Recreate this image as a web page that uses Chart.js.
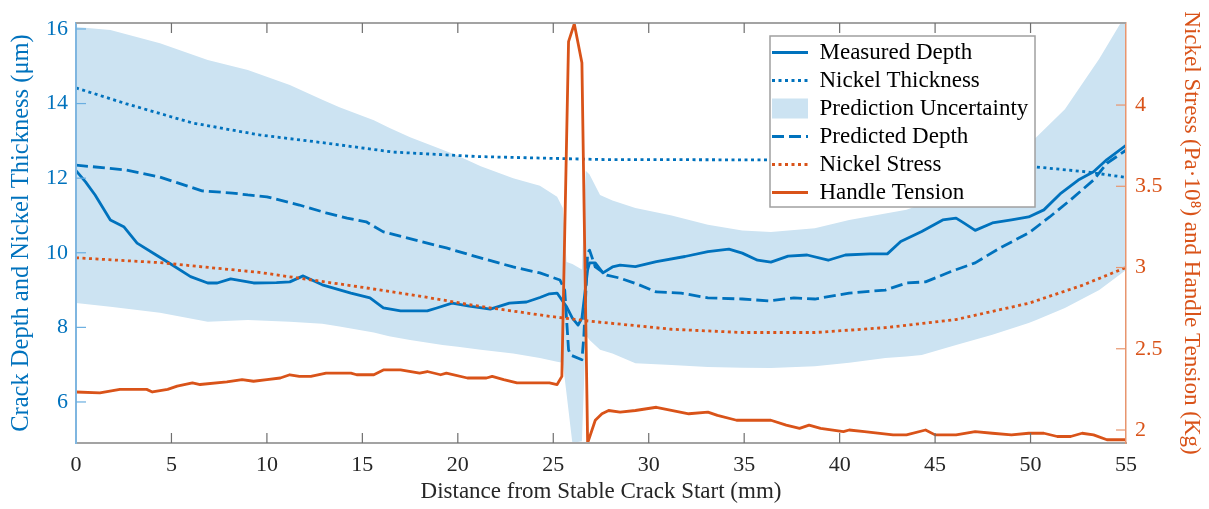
<!DOCTYPE html>
<html>
<head>
<meta charset="utf-8">
<script src="https://cdn.jsdelivr.net/npm/chart.js@4.4.1/dist/chart.umd.min.js"></script>
<style>
html, body { margin: 0; padding: 0; background: #fff; }
canvas { display: block; }
</style>
</head>
<body>
<canvas id="myChart" width="1209" height="509"></canvas>
<script>
// tick labels
const xTicks = [0, 5, 10, 15, 20, 25, 30, 35, 40, 45, 50, 55];
const leftTicks = [6, 8, 10, 12, 14, 16];
const rightTicks = [2, 2.5, 3, 3.5, 4];

// Measured Depth (um)
const measuredX = [0, 0.5, 1.0, 1.8, 2.5, 3.2, 4.2, 4.9, 6.0, 6.9, 7.4, 8.1, 9.3, 10.5, 11.2, 11.9, 12.9, 14.4, 15.4, 16.1, 17.0, 18.4, 18.9, 19.7, 20.6, 21.7, 22.7, 23.6, 24.3, 24.8, 25.2, 25.7, 26.0, 26.3, 26.5, 26.8, 26.9, 27.2, 27.6, 28.1, 28.5, 29.3, 30.4, 31.9, 33.1, 34.2, 34.9, 35.7, 36.4, 37.3, 38.3, 39.4, 40.3, 41.6, 42.5, 43.2, 44.3, 45.4, 46.1, 46.5, 47.1, 48.0, 49.0, 49.9, 50.7, 51.6, 52.5, 53.3, 54.0, 55];
const measuredDepth = [12.2, 11.9, 11.55, 10.88, 10.7, 10.26, 9.94, 9.72, 9.36, 9.19, 9.19, 9.3, 9.19, 9.2, 9.22, 9.38, 9.14, 8.92, 8.79, 8.52, 8.44, 8.44, 8.52, 8.65, 8.57, 8.49, 8.65, 8.68, 8.8, 8.9, 8.92, 8.55, 8.25, 8.06, 8.25, 9.54, 9.73, 9.73, 9.46, 9.62, 9.67, 9.63, 9.76, 9.9, 10.03, 10.1, 9.99, 9.8, 9.75, 9.91, 9.94, 9.8, 9.94, 9.97, 9.97, 10.3, 10.57, 10.88, 10.93, 10.8, 10.6, 10.8, 10.88, 10.96, 11.15, 11.6, 11.95, 12.17, 12.5, 12.88];

// Nickel Thickness (um)
const thickX = [0, 2.6, 6.1, 9.6, 13.1, 16.6, 21, 27.5, 36.3, 40, 45, 50.3, 52.9, 55];
const nickelThickness = [14.42, 14.0, 13.48, 13.16, 12.94, 12.7, 12.58, 12.5, 12.49, 12.47, 12.42, 12.3, 12.17, 12.02];

// Prediction Uncertainty band (um)
const bandX = [0, 1.8, 4.4, 6.9, 9.0, 11.2, 12.9, 13.8, 15.6, 16.4, 17.5, 19.2, 20.0, 21.2, 22.9, 24.3, 25.2, 25.5, 25.7, 26.0, 26.5, 26.7, 26.9, 27.45, 28.1, 29.3, 31.2, 33.1, 34.9, 36.4, 38.7, 40.5, 42.4, 43.5, 44.3, 46.1, 48.0, 49.9, 50.3, 51.8, 53.6, 55];
const bandUpper = [16.05, 15.97, 15.62, 15.17, 14.9, 14.5, 14.1, 13.9, 13.55, 13.35, 13.1, 12.76, 12.6, 12.32, 12.0, 11.8, 11.5, 11.2, 9.75, 9.7, 9.55, 12.2, 12.1, 11.55, 11.4, 11.2, 11.0, 10.75, 10.6, 10.56, 10.66, 10.88, 11.05, 11.15, 11.3, 11.7, 12.2, 12.9, 13.1, 13.85, 15.2, 16.4];
const bandLower = [8.65, 8.55, 8.39, 8.15, 8.2, 8.15, 8.1, 8.02, 7.86, 7.76, 7.66, 7.53, 7.48, 7.4, 7.3, 7.18, 7.08, 7.05, 6.2, 4.9, 4.95, 7.8, 7.66, 7.4, 7.3, 7.04, 6.99, 6.94, 6.92, 6.91, 6.96, 7.05, 7.18, 7.22, 7.26, 7.53, 7.8, 8.12, 8.2, 8.52, 9.0, 9.54];

// Predicted Depth (um)
const predX = [0, 2.6, 4.4, 6.6, 8.2, 9.0, 10.0, 11.7, 13.1, 14.2, 15.2, 16.1, 18.4, 19.4, 21.0, 22.9, 24.3, 25.35, 25.6, 25.8, 25.9, 26.5, 26.6, 26.8, 26.9, 27.2, 27.8, 28.5, 29.5, 30.4, 31.7, 33.1, 34.9, 36.3, 37.6, 38.7, 40.5, 42.4, 43.5, 44.5, 45.8, 47.1, 48.4, 49.9, 51.0, 52.1, 53.3, 54.0, 55];
const predictedDepth = [12.35, 12.22, 12.03, 11.66, 11.6, 11.55, 11.5, 11.28, 11.07, 10.93, 10.83, 10.56, 10.26, 10.13, 9.89, 9.62, 9.46, 9.27, 9.0, 7.4, 7.26, 7.13, 7.74, 10.0, 10.07, 9.62, 9.4, 9.32, 9.14, 8.95, 8.92, 8.79, 8.76, 8.71, 8.79, 8.76, 8.92, 9.0, 9.19, 9.22, 9.49, 9.73, 10.13, 10.53, 10.96, 11.42, 11.95, 12.4, 12.75];

// Nickel Stress (Pa 1e8)
const stressX = [0, 4.4, 9.6, 14.9, 18.2, 21.2, 24.8, 26.9, 29.5, 31.2, 34.9, 38.7, 42.4, 46.1, 49.9, 52.7, 55];
const nickelStress = [3.06, 3.03, 2.97, 2.88, 2.82, 2.76, 2.70, 2.67, 2.64, 2.62, 2.60, 2.60, 2.63, 2.68, 2.78, 2.89, 3.0];

// Handle Tension (Kg)
const tensionX = [0, 1.25, 2.3, 3.7, 4.0, 4.8, 5.3, 6.1, 6.5, 7.9, 8.7, 9.3, 10.0, 10.7, 11.2, 11.7, 12.3, 13.1, 14.4, 14.7, 15.6, 16.1, 17.0, 18.0, 18.4, 19.1, 19.4, 20.5, 21.5, 21.8, 22.4, 23.1, 24.8, 25.2, 25.45, 25.8, 26.1, 26.5, 26.8, 27.2, 27.55, 27.9, 28.5, 29.3, 30.4, 32.1, 33.1, 33.6, 34.6, 36.4, 37.2, 37.9, 38.4, 39.0, 40.2, 40.5, 41.3, 42.8, 43.5, 44.5, 45.0, 46.1, 47.1, 48.0, 49.0, 49.9, 50.7, 51.4, 52.1, 52.7, 53.3, 54.0, 55];
const handleTension = [2.234, 2.228, 2.25, 2.25, 2.234, 2.25, 2.27, 2.29, 2.28, 2.296, 2.31, 2.30, 2.31, 2.32, 2.34, 2.33, 2.33, 2.35, 2.35, 2.34, 2.34, 2.37, 2.37, 2.35, 2.36, 2.34, 2.35, 2.32, 2.32, 2.33, 2.31, 2.29, 2.29, 2.28, 2.33, 4.39, 4.5, 4.26, 1.92, 2.06, 2.10, 2.12, 2.11, 2.12, 2.14, 2.10, 2.11, 2.09, 2.06, 2.06, 2.03, 2.01, 2.03, 2.01, 1.99, 2.0, 1.99, 1.97, 1.97, 2.0, 1.97, 1.97, 1.99, 1.98, 1.97, 1.98, 1.98, 1.96, 1.96, 1.98, 1.97, 1.94, 1.94];


const blue = '#0072BD';
const orange = '#D95319';
const bandColor = '#cce3f2';
const serif = '"Liberation Serif", "Times New Roman", serif';

function pts(xs, ys) {
	return xs.map((x, i) => ({ x: x, y: ys[i] }));
}

// ticks pointing inwards, top frame line, legend box over the data
const frameTicks = {
	id: 'frameTicks',
	afterLayout(chart) {
		const a = chart.chartArea;
		const lg = chart.legend;
		lg.left = a.right - 359;
		lg.top = a.top + 13;
		lg.right = lg.left + 268;
		lg.bottom = lg.top + 176;
	},
	afterDraw(chart) {
		const ctx = chart.ctx;
		const a = chart.chartArea;
		const sx = chart.scales.x, yl = chart.scales.y, yr = chart.scales.y2;
		ctx.save();

		ctx.strokeStyle = '#a3a3a3';
		ctx.lineWidth = 2;
		ctx.beginPath();
		ctx.moveTo(a.left, a.top);
		ctx.lineTo(a.right, a.top);
		ctx.stroke();

		ctx.lineWidth = 1.2;
		ctx.strokeStyle = '#6f6f6f';
		sx.ticks.forEach(t => {
			const p = sx.getPixelForValue(t.value);
			if (p <= a.left + 1 || p >= a.right - 1) return;
			ctx.beginPath();
			ctx.moveTo(p, a.top);
			ctx.lineTo(p, a.top + 10);
			ctx.moveTo(p, a.bottom);
			ctx.lineTo(p, a.bottom - 10);
			ctx.stroke();
		});

		ctx.strokeStyle = '#6aaee0';
		yl.ticks.forEach(t => {
			const p = yl.getPixelForValue(t.value);
			ctx.beginPath();
			ctx.moveTo(a.left, p);
			ctx.lineTo(a.left + 10, p);
			ctx.stroke();
		});

		ctx.strokeStyle = '#e8956e';
		yr.ticks.forEach(t => {
			const p = yr.getPixelForValue(t.value);
			ctx.beginPath();
			ctx.moveTo(a.right - 10, p);
			ctx.lineTo(a.right, p);
			ctx.stroke();
		});

		// legend
		const bx = a.right - 356, by = a.top + 13, bw = 265, bh = 171;
		ctx.fillStyle = '#ffffff';
		ctx.fillRect(bx, by, bw, bh);
		ctx.restore();
		chart.legend.draw();
		ctx.save();
		ctx.strokeStyle = '#a0a0a0';
		ctx.lineWidth = 1.5;
		ctx.strokeRect(bx, by, bw, bh);
		ctx.restore();
	}
};


new Chart("myChart", {
	type: 'line',
	data: {
		datasets: [{
			label: 'Measured Depth',
			data: pts(measuredX, measuredDepth),
			yAxisID: 'y',
			borderColor: blue,
			borderWidth: 2.8,
			order: 3
		},
		{
			label: 'Nickel Thickness',
			data: pts(thickX, nickelThickness),
			yAxisID: 'y',
			borderColor: blue,
			borderWidth: 2.8,
			borderDash: [3, 3.5],
			order: 5
		},
		{
			label: 'Prediction Uncertainty',
			data: pts(bandX, bandUpper),
			yAxisID: 'y',
			borderColor: 'rgba(0,0,0,0)',
			borderWidth: 0,
			backgroundColor: bandColor,
			fill: '+1',
			order: 7
		},
		{
			label: '',
			data: pts(bandX, bandLower),
			yAxisID: 'y',
			borderColor: 'rgba(0,0,0,0)',
			borderWidth: 0,
			fill: false,
			order: 8
		},
		{
			label: 'Predicted Depth',
			data: pts(predX, predictedDepth),
			yAxisID: 'y',
			borderColor: blue,
			borderWidth: 2.8,
			borderDash: [12, 5],
			order: 4
		},
		{
			label: 'Nickel Stress',
			data: pts(stressX, nickelStress),
			yAxisID: 'y2',
			borderColor: orange,
			borderWidth: 2.8,
			borderDash: [3, 3.5],
			order: 2
		},
		{
			label: 'Handle Tension',
			data: pts(tensionX, handleTension),
			yAxisID: 'y2',
			borderColor: orange,
			borderWidth: 2.8,
			order: 1
		}]
	},
	options: {
		responsive: false,
		animation: false,
		events: [],
		layout: { padding: { top: 23, left: 0, right: 0, bottom: 0 } },
		elements: {
			point: { radius: 0 },
			line: { tension: 0, borderJoinStyle: 'round' }
		},
		scales: {
			x: {
				type: 'linear',
				min: 0,
				max: 55,
				afterBuildTicks: s => { s.ticks = xTicks.map(v => ({ value: v })); },
				afterFit: s => { s.height = 66; },
				grid: { display: false, drawTicks: false },
				border: { display: true, color: '#a3a3a3', width: 2, z: 1 },
				ticks: { color: '#262626', font: { family: serif, size: 22 }, padding: 9, maxRotation: 0, autoSkip: false, callback: v => String(v) },
				title: { display: true, text: 'Distance from Stable Crack Start (mm)', color: '#262626', font: { family: serif, size: 23 }, padding: { top: 0, bottom: 3 } }
			},
			y: {
				type: 'linear',
				position: 'left',
				min: 4.9,
				max: 16.16,
				afterBuildTicks: s => { s.ticks = leftTicks.map(v => ({ value: v })); },
				afterFit: s => { s.width = 76; },
				grid: { display: false, drawTicks: false },
				border: { display: true, color: '#7fb6e0', width: 2, z: 1 },
				ticks: { color: blue, font: { family: serif, size: 22 }, padding: 8, callback: v => String(v) },
				title: { display: true, text: 'Crack Depth and Nickel Thickness (μm)', color: blue, font: { family: serif, size: 24.5 }, padding: { top: 7, bottom: 0 } }
			},
			y2: {
				type: 'linear',
				position: 'right',
				min: 1.92,
				max: 4.505,
				afterBuildTicks: s => { s.ticks = rightTicks.map(v => ({ value: v })); },
				afterFit: s => { s.width = 83; },
				grid: { display: false, drawTicks: false },
				border: { display: true, color: '#e8956e', width: 1.5, z: 1 },
				ticks: { color: orange, font: { family: serif, size: 22 }, padding: 9, callback: v => String(v) },
				title: { display: true, text: 'Nickel Stress (Pa·10⁸) and Handle Tension (Kg)', color: orange, font: { family: serif, size: 23 }, padding: { top: 4, bottom: 0 } }
			}
		},
		plugins: {
			filler: { drawTime: 'beforeDatasetsDraw' },
			tooltip: { enabled: false },
			legend: {
				position: 'chartArea',
				align: 'start',
				labels: {
					usePointStyle: true,
					pointStyleWidth: 36,
					boxHeight: 20,
					padding: 5,
					color: '#000',
					font: { family: serif, size: 23 },
					generateLabels: chart => chart.data.datasets.map((ds, i) => ({
						text: ds.label,
						datasetIndex: i,
						hidden: false,
						strokeStyle: ds.borderColor,
						fillStyle: ds.fill ? ds.backgroundColor : 'rgba(0,0,0,0)',
						lineWidth: ds.fill ? 0 : ds.borderWidth,
						lineDash: ds.borderDash || [],
						pointStyle: ds.fill ? 'rect' : 'line'
					})).filter(item => item.text !== '')
				}
			}
		}
	},
	plugins: [frameTicks]
});
</script>
</body>
</html>
